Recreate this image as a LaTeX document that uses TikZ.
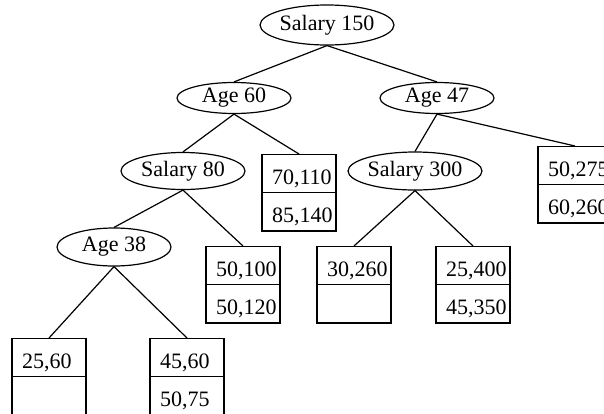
\documentclass[tikz,border=0pt]{standalone}
\usepackage{fontspec}
\setmainfont{Liberation Serif}
\usetikzlibrary{shapes.geometric, shapes.multipart}
\newcommand{\cellstrut}{\rule[-2pt]{0pt}{14.5pt}}

\begin{document}
\begin{tikzpicture}[x=0.5pt, y=-0.5pt, line width=0.6pt,
    font=\fontsize{11}{13.2}\selectfont,
    test/.style={ellipse, draw, inner sep=0pt},
    leaf/.style={rectangle split, rectangle split parts=2, draw,
      text width=27pt, align=left, inner xsep=5pt, inner ysep=2pt,
      anchor=north}]
  \useasboundingbox (0,0) rectangle (604,413);
  % tests
  \node[test, minimum width=66pt, minimum height=20pt] (s150) at (327,25) {Salary 150};
  \node[test, minimum width=57pt, minimum height=15.5pt] (a60) at (234,98) {Age 60};
  \node[test, minimum width=57pt, minimum height=15.5pt] (a47) at (437,98) {Age 47};
  \node[test, minimum width=62pt, minimum height=18.5pt] (s80) at (183,171) {Salary 80};
  \node[test, minimum width=61pt, minimum height=19pt] (s300) at (415,171) {Salary 300};
  \node[test, minimum width=57pt, minimum height=19pt] (a38) at (114,247) {Age 38};
  % leaves
  \node[leaf] (l70) at (299,154) {\cellstrut 70,110 \nodepart{two}\cellstrut 85,140};
  \node[leaf] (l275) at (575,146) {\cellstrut 50,275 \nodepart{two}\cellstrut 60,260};
  \node[leaf] (l100) at (243,246) {\cellstrut 50,100 \nodepart{two}\cellstrut 50,120};
  \node[leaf] (l260) at (354,246) {\cellstrut 30,260 \nodepart{two}\cellstrut};
  \node[leaf] (l400) at (473,246) {\cellstrut 25,400 \nodepart{two}\cellstrut 45,350};
  \node[leaf] (l25) at (49,338) {\cellstrut 25,60 \nodepart{two}\cellstrut};
  \node[leaf] (l45) at (187,338) {\cellstrut 45,60 \nodepart{two}\cellstrut 50,75};
  % branches
  \draw (s150.south) -- (a60.north);
  \draw (s150.south) -- (a47.north);
  \draw (a60.south) -- (s80.north);
  \draw (a60.south) -- (l70.north);
  \draw (a47.south) -- (s300.north);
  \draw (a47.south) -- (l275.north);
  \draw (s80.south) -- (a38.north);
  \draw (s80.south) -- (l100.north);
  \draw (s300.south) -- (l260.north);
  \draw (s300.south) -- (l400.north);
  \draw (a38.south) -- (l25.north);
  \draw (a38.south) -- (l45.north);
\end{tikzpicture}
\end{document}
